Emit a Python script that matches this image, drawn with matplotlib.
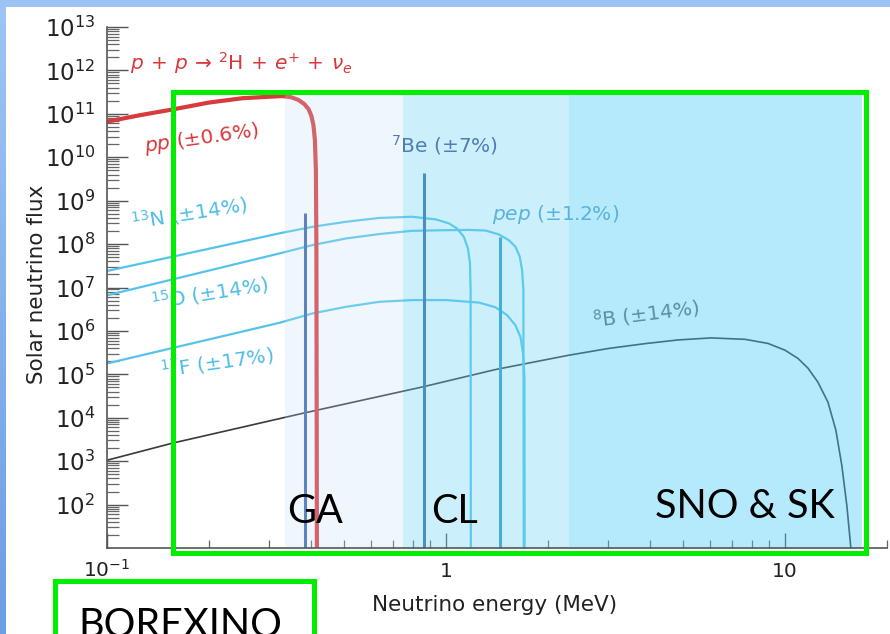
import matplotlib
matplotlib.use("Agg")
import matplotlib.pyplot as plt
import numpy as np
from matplotlib.patches import Rectangle
from matplotlib.ticker import FixedLocator, FixedFormatter, LogLocator, NullFormatter

# ---------------- data ----------------
# pp continuum (MeV, flux)
pp_E = [0.100, 0.125, 0.156, 0.200, 0.251, 0.329, 0.350, 0.367, 0.382, 0.393,
        0.401, 0.4064, 0.4105, 0.4133, 0.4147, 0.4161]
pp_F = [6.6e10, 9.3e10, 1.26e11, 1.82e11, 2.29e11, 2.57e11, 2.40e11, 2.09e11, 1.68e11, 1.29e11,
        8.9e10, 5.5e10, 2.5e10, 5.1e9, 7.2e7, 10]

# CNO continua
n13_E = [0.100, 0.323, 0.404, 0.508, 0.635, 0.794, 0.934, 1.020, 1.077, 1.129,
         1.161, 1.177, 1.182, 1.184]
n13_F = [2.4e7, 1.77e8, 2.5e8, 3.27e8, 4.0e8, 4.26e8, 3.7e8, 3.0e8, 2.3e8, 1.47e8,
         7.9e7, 3.6e7, 8.7e6, 10]

o15_E = [0.100, 0.323, 0.404, 0.508, 0.635, 0.794, 1.000, 1.168, 1.309, 1.432,
         1.532, 1.603, 1.651, 1.677, 1.692, 1.696]
o15_F = [6.6e6, 6.1e7, 9.5e7, 1.35e8, 1.70e8, 2.02e8, 2.09e8, 2.12e8, 2.05e8, 1.67e8,
         1.23e8, 8.7e7, 5.1e7, 2.5e7, 8.7e6, 10]

f17_E = [0.100, 0.323, 0.404, 0.508, 0.635, 0.794, 1.000, 1.251, 1.400, 1.515,
         1.603, 1.659, 1.688, 1.704, 1.706]
f17_F = [1.78e5, 1.54e6, 2.53e6, 3.6e6, 4.68e6, 5.13e6, 5.13e6, 4.5e6, 3.5e6, 2.3e6,
         1.35e6, 7.2e5, 3.0e5, 8.7e4, 10]

# 8B continuum
b8_E = [0.100, 0.156, 0.377, 0.850, 1.40, 2.30, 3.02, 3.87, 4.84, 6.06, 7.63, 8.91,
        10.0, 10.92, 11.69, 12.51, 13.39, 14.13, 14.71, 15.22, 15.64]
b8_F = [1.05e3, 2.6e3, 1.26e4, 5.1e4, 1.29e5, 2.75e5, 3.95e5, 5.1e5, 6.2e5, 6.9e5, 6.4e5, 5.15e5,
        3.6e5, 2.33e5, 1.39e5, 6.6e4, 2.29e4, 5.2e3, 8.1e2, 97, 10.5]

# mono-energetic lines
be7_E = [0.384, 0.862]
be7_F = [5.1e8, 4.4e9]
pep_E = [1.44]
pep_F = [1.45e8]

# detector sensitivity bands (band boundaries in MeV)
band_edges = [0.336, 0.747, 2.30, 16.85]
band_top = 3.0e11

xtick_vals = [0.1, 1, 10]
xtick_labels = [r'$10^{-1}$', '1', '10']
ytick_vals = [10.0 ** k for k in range(2, 14)]
ytick_labels = [r'$10^{%d}$' % k for k in range(2, 14)]

# ---------------- figure ----------------
plt.rcParams['font.family'] = ['DejaVu Sans']
plt.rcParams['mathtext.fontset'] = 'dejavusans'

W, H = 890, 634
fig = plt.figure(figsize=(W / 100, H / 100), dpi=100)
fig.patch.set_facecolor('white')


def fx(px):
    return px / W


def fy(py):
    return 1 - py / H


# slide frame: top strip and left gradient strip
fig.patches.append(Rectangle((0, fy(7)), 1, 7 / H, transform=fig.transFigure,
                             facecolor='#9dc3f5', edgecolor='none', zorder=0))
side = fig.add_axes([0, 0, 6 / W, 1])
grad = np.linspace(0, 1, 256)[:, None, None]
top_c = np.array([0.62, 0.77, 0.96])
bot_c = np.array([0.42, 0.62, 0.90])
side.imshow(top_c * (1 - grad) + bot_c * grad, aspect='auto', extent=[0, 1, 0, 1])
side.set_axis_off()

ax = fig.add_axes([fx(107), fy(548), fx(887) - fx(107), fy(27) - fy(548)])
ax.set_xscale('log')
ax.set_yscale('log')
ax.set_xlim(0.1, 20)
ax.set_ylim(10, 1e13)
ax.set_facecolor('none')

# spectra
ax.plot(b8_E, b8_F, color='#3a3a3a', lw=1.2, zorder=2)
cno_col = '#55c3ea'
for E, F in [(n13_E, n13_F), (o15_E, o15_F), (f17_E, f17_F)]:
    ax.plot(E, F, color=cno_col, lw=1.6, zorder=2, solid_joinstyle='round')
ax.vlines(be7_E, 10, be7_F, color='#3a66a8', lw=2.2, zorder=2)
ax.vlines(pep_E, 10, pep_F, color='#2f9ccc', lw=2.2, zorder=2)
ax.plot(pp_E, pp_F, color='#d83a3e', lw=3.0, zorder=2, solid_joinstyle='round')

# sensitivity bands, laid over the spectra
band_cols = [((0.78, 0.89, 0.97), 0.25), ((0.43, 0.84, 0.96), 0.35), ((0.27, 0.80, 0.96), 0.40)]
for (lo, hi), (c, a) in zip(zip(band_edges[:-1], band_edges[1:]), band_cols):
    ax.fill_between([lo, hi], 10, band_top, color=c, alpha=a, lw=0, zorder=2.2)

# axes styling
for s in ['top', 'right']:
    ax.spines[s].set_visible(False)
for s in ['left', 'bottom']:
    ax.spines[s].set_color('#555555')
    ax.spines[s].set_linewidth(1.2)
    ax.spines[s].set_zorder(2.5)

ax.xaxis.set_major_locator(FixedLocator(xtick_vals))
ax.xaxis.set_major_formatter(FixedFormatter(xtick_labels))
ax.xaxis.set_minor_locator(LogLocator(base=10, subs=np.arange(2, 10), numticks=30))
ax.xaxis.set_minor_formatter(NullFormatter())
ax.yaxis.set_major_locator(FixedLocator(ytick_vals))
ax.yaxis.set_major_formatter(FixedFormatter(ytick_labels))
ax.yaxis.set_minor_locator(LogLocator(base=10, subs=np.arange(2, 10), numticks=30))
ax.yaxis.set_minor_formatter(NullFormatter())

ax.tick_params(axis='y', which='major', direction='in', length=15, width=1.0,
               color='#555555', pad=8.6, labelsize=16.5, labelcolor='#222222')
ax.tick_params(axis='y', which='minor', direction='in', length=8.5, width=0.9,
               color='#666666')
ax.tick_params(axis='x', which='major', direction='in', length=11, width=1.0,
               color='#555555', pad=21, labelsize=14.5, labelcolor='#222222')
ax.tick_params(axis='x', which='minor', direction='in', length=6, width=0.9,
               color='#666666')
for lbl in ax.get_xticklabels():
    lbl.set_verticalalignment('baseline')

ax.set_xlabel('Neutrino energy (MeV)', fontsize=15.5, color='#222222')
ax.set_ylabel('Solar neutrino flux', fontsize=15.5, color='#222222')
ax.xaxis.set_label_coords(0.497, -0.090)
ax.yaxis.set_label_coords(-0.077, 0.507)

# source annotations
red = '#d9383c'
ax.text(0.117, 10 ** 12.17,
        r'$p\,+\,p\,\rightarrow\,{}^{2}\mathrm{H}\,+\,e^{+}\,+\,\nu_{e}$',
        color=red, fontsize=14.5, ha='left', va='center', zorder=3)
ax.text(0.191, 10 ** 10.44, r'$pp$ (±0.6%)', color=red, fontsize=14.5,
        ha='center', va='center', rotation=8, zorder=3)
ax.text(0.993, 10 ** 10.28, r'$^{7}$Be (±7%)', color='#4f7db4', fontsize=14.5,
        ha='center', va='center', zorder=3)
ax.text(2.11, 10 ** 8.69, r'$pep$ (±1.2%)', color='#5ab2dc', fontsize=14.5,
        ha='center', va='center', zorder=3)
ax.text(0.175, 10 ** 8.71, r'$^{13}$N (±14%)', color='#4fbde6', fontsize=14.5,
        ha='center', va='center', rotation=9, zorder=3)
ax.text(0.201, 10 ** 6.87, r'$^{15}$O (±14%)', color='#4fbde6', fontsize=14.5,
        ha='center', va='center', rotation=9, zorder=3)
ax.text(0.211, 10 ** 5.28, r'$^{17}$F (±17%)', color='#4fbde6', fontsize=14.5,
        ha='center', va='center', rotation=8, zorder=3)
ax.text(3.9, 10 ** 6.41, r'$^{8}$B (±14%)', color='#5b8fa3', fontsize=14.5,
        ha='center', va='center', rotation=7, zorder=3)

# experiment labels and outlines
big = dict(family=['Lato', 'DejaVu Sans'], fontsize=28.5, color='black', va='baseline', zorder=11)
fig.text(fx(287), fy(523), 'GA', **big)
fig.text(fx(431), fy(523), 'CL', **big)
fig.text(fx(655), fy(518), 'SNO & SK', **big)
fig.text(fx(78), fy(637), 'BOREXINO', **big)

green = '#00ee00'
fig.patches.append(Rectangle((fx(173), fy(553)), fx(866) - fx(173), (553 - 92) / H,
                             transform=fig.transFigure, fill=False, edgecolor=green,
                             linewidth=3.6, zorder=10))
fig.patches.append(Rectangle((fx(55), fy(660)), fx(314) - fx(55), (660 - 581) / H,
                             transform=fig.transFigure, fill=False, edgecolor=green,
                             linewidth=3.6, zorder=10))

fig.savefig('out.png', dpi=100)
